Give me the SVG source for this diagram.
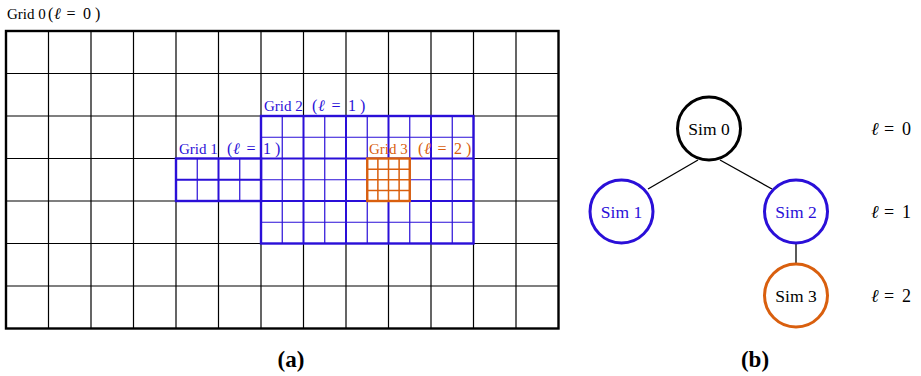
<svg xmlns="http://www.w3.org/2000/svg" width="921" height="376" viewBox="0 0 921 376">
<style>
text{font-family:"Liberation Serif","DejaVu Serif",serif;}
.lbl{font-size:15px;}
.m{font-size:16px;}
.ell{font-style:italic;font-size:16px;}
.blue{fill:#2a0fd8;}
.orange{fill:#d95f0e;}
.g0{stroke:#000;stroke-width:1.2;fill:none;}
.g0o{stroke:#000;stroke-width:2.4;fill:none;}
.bf{stroke:#2a0fd8;stroke-width:1.2;fill:none;}
.bc{stroke:#2a0fd8;stroke-width:2;fill:none;}
.bo{stroke:#2a0fd8;stroke-width:2.4;fill:none;}
.of{stroke:#d95f0e;stroke-width:1.5;fill:none;}
.oo{stroke:#d95f0e;stroke-width:2.4;fill:none;}
.edge{stroke:#000;stroke-width:1.3;}
.cap{font-size:23px;font-weight:bold;}
.sim{font-size:17.5px;}
.lev{font-size:18px;}
.lev .ell{font-size:18px;}
</style>
<g id="grid0">
<path class="g0" d="M48.5 31V328.5M91 31V328.5M133.5 31V328.5M176 31V328.5M218.5 31V328.5M261 31V328.5M303.5 31V328.5M346 31V328.5M388.5 31V328.5M431 31V328.5M473.5 31V328.5M516 31V328.5M6 73.5H558.5M6 116H558.5M6 158.5H558.5M6 201H558.5M6 243.5H558.5M6 286H558.5"/>
<rect class="g0o" x="6" y="31" width="552.5" height="297.5"/>
<text class="lbl" y="19"><tspan x="7">Grid 0</tspan><tspan class="m" x="48">(</tspan><tspan class="ell" x="54">ℓ</tspan><tspan class="m" x="66.5">=</tspan><tspan class="m" x="83">0</tspan><tspan class="m" x="95">)</tspan></text>
</g>
<g id="grid2">
<rect x="261" y="116" width="212.5" height="127.5" fill="#fff"/>
<path class="bf" d="M282.25 116V243.5M324.75 116V243.5M367.25 116V243.5M409.75 116V243.5M452.25 116V243.5M261 137.25H473.5M261 179.75H473.5M261 222.25H473.5"/>
<path class="bc" d="M303.5 116V243.5M346 116V243.5M388.5 116V243.5M431 116V243.5M261 158.5H473.5M261 201H473.5"/>
<rect class="bo" x="261" y="116" width="212.5" height="127.5"/>
<text class="lbl blue" y="111"><tspan x="264">Grid 2</tspan><tspan class="m" x="312">(</tspan><tspan class="ell" x="318">ℓ</tspan><tspan class="m" x="331.5">=</tspan><tspan class="m" x="348">1</tspan><tspan class="m" x="360">)</tspan></text>
</g>
<g id="grid1">
<rect x="176" y="158.5" width="85" height="42.5" fill="#fff"/>
<path class="bf" d="M197.25 158.5V201M239.75 158.5V201"/>
<path class="bc" d="M218.5 158.5V201M176 179.75H261"/>
<rect class="bo" x="176" y="158.5" width="85" height="42.5"/>
<text class="lbl blue" y="154"><tspan x="179">Grid 1</tspan><tspan class="m" x="227">(</tspan><tspan class="ell" x="233">ℓ</tspan><tspan class="m" x="246.5">=</tspan><tspan class="m" x="263">1</tspan><tspan class="m" x="275">)</tspan></text>
</g>
<g id="grid3">
<rect x="367.25" y="158.5" width="42.5" height="42.5" fill="#fff"/>
<path class="of" d="M377.875 158.5V201M388.5 158.5V201M399.125 158.5V201M367.25 169.125H409.75M367.25 179.75H409.75M367.25 190.375H409.75"/>
<rect class="oo" x="367.25" y="158.5" width="42.5" height="42.5"/>
<text class="lbl orange" y="154"><tspan x="369">Grid 3</tspan><tspan class="m" x="418">(</tspan><tspan class="ell" x="424">ℓ</tspan><tspan class="m" x="437.5">=</tspan><tspan class="m" x="454">2</tspan><tspan class="m" x="466">)</tspan></text>
</g>
<text class="cap" x="291" y="367" text-anchor="middle">(a)</text>
<g id="connectors">
<line class="edge" x1="698" y1="160" x2="648" y2="189"/>
<line class="edge" x1="720" y1="160" x2="772" y2="189"/>
<line class="edge" x1="796" y1="243" x2="796" y2="263"/>
</g>
<g id="sim0">
<circle cx="709" cy="128.5" r="31.5" fill="#fff" stroke="#000" stroke-width="3"/>
<text class="sim" x="709" y="135" text-anchor="middle">Sim 0</text>
</g>
<g id="sim1">
<circle cx="621.5" cy="211.5" r="31.5" fill="#fff" stroke="#2a0fd8" stroke-width="3"/>
<text class="sim blue" x="621.5" y="218" text-anchor="middle">Sim 1</text>
</g>
<g id="sim2">
<circle cx="796" cy="211.5" r="31.5" fill="#fff" stroke="#2a0fd8" stroke-width="3"/>
<text class="sim blue" x="796" y="218" text-anchor="middle">Sim 2</text>
</g>
<g id="sim3">
<circle cx="796" cy="295.5" r="31.5" fill="#fff" stroke="#d95f0e" stroke-width="3"/>
<text class="sim" x="796" y="302" text-anchor="middle">Sim 3</text>
</g>
<text class="lev" y="135"><tspan class="ell" x="871">ℓ</tspan><tspan x="884">=</tspan><tspan x="902">0</tspan></text>
<text class="lev" y="218"><tspan class="ell" x="871">ℓ</tspan><tspan x="884">=</tspan><tspan x="902">1</tspan></text>
<text class="lev" y="302"><tspan class="ell" x="871">ℓ</tspan><tspan x="884">=</tspan><tspan x="902">2</tspan></text>
<text class="cap" x="755" y="367" text-anchor="middle">(b)</text>
</svg>
